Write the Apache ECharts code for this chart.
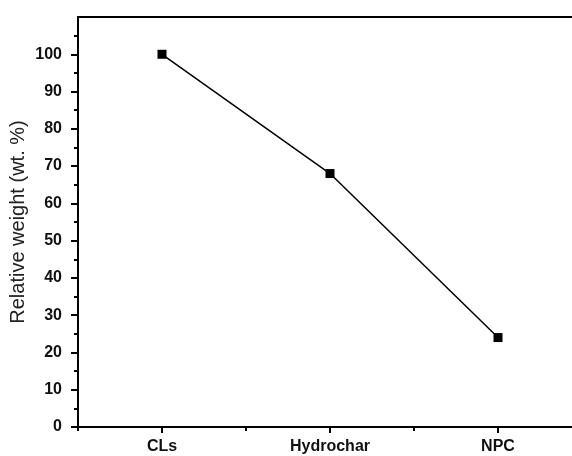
<!DOCTYPE html>
<html>
<head>
<meta charset="utf-8">
<script src="https://cdn.jsdelivr.net/npm/echarts@6/dist/echarts.min.js"></script>
<style>
  html, body { margin: 0; padding: 0; background: #fff; overflow: hidden; }
  #chart { width: 572px; height: 456px; }
</style>
</head>
<body>
<div id="chart"></div>
<script>
const categories = ['CLs', 'Hydrochar', 'NPC'];
const weights = [100, 68, 24];
const yTicks = [0, 10, 20, 30, 40, 50, 60, 70, 80, 90, 100];
const xPositions = categories.map((c, i) => i);

const chart = echarts.init(document.getElementById('chart'));

const axisColor = { color: '#000', width: 2 };

const option = {
  backgroundColor: '#fff',
  animation: false,
  grid: {
    left: 78,
    top: 17,
    width: 504, // plot runs past the right edge of the picture
    height: 410,
    containLabel: false,
    outerBoundsMode: 'none'
  },
  xAxis: [
    {
      type: 'value',
      min: -0.5,
      max: 2.5,
      interval: 1,
      axisLine: { onZero: false, lineStyle: axisColor },
      // major ticks sit between categories, minor ticks on the categories
      axisTick: { show: true, length: 4, lineStyle: axisColor },
      minorTick: { show: true, splitNumber: 2, length: 6, lineStyle: axisColor },
      axisLabel: {
        customValues: xPositions,
        formatter: (v) => categories[Math.round(v)],
        color: '#111',
        fontFamily: 'Liberation Sans',
        fontWeight: 'bold',
        fontSize: 16,
        margin: 12
      },
      splitLine: { show: false },
      minorSplitLine: { show: false }
    },
    {
      // top frame line only
      type: 'value',
      position: 'top',
      min: -0.5,
      max: 2.5,
      interval: 1,
      axisLine: { show: true, onZero: false, lineStyle: axisColor },
      axisTick: { show: false },
      axisLabel: { show: false },
      splitLine: { show: false }
    }
  ],
  yAxis: {
    type: 'value',
    min: 0,
    max: 110,
    interval: 10,
    name: 'Relative weight (wt. %)',
    nameLocation: 'middle',
    nameGap: 50,
    nameMoveOverlap: false,
    nameTextStyle: {
      color: '#222',
      fontFamily: 'Liberation Sans',
      fontSize: 20
    },
    axisLine: { show: true, onZero: false, lineStyle: axisColor },
    axisTick: { show: true, length: 7, customValues: yTicks, lineStyle: axisColor },
    minorTick: { show: true, splitNumber: 2, length: 4, lineStyle: axisColor },
    axisLabel: {
      customValues: yTicks,
      color: '#111',
      fontFamily: 'Liberation Sans',
      fontWeight: 'bold',
      fontSize: 16,
      margin: 16
    },
    splitLine: { show: false }
  },
  series: [
    {
      type: 'line',
      xAxisIndex: 0,
      data: weights.map((w, i) => [xPositions[i], w]),
      symbol: 'rect',
      symbolSize: 9,
      lineStyle: { color: '#000', width: 1.5 },
      itemStyle: { color: '#000' }
    }
  ]
};

chart.setOption(option);
</script>
</body>
</html>
